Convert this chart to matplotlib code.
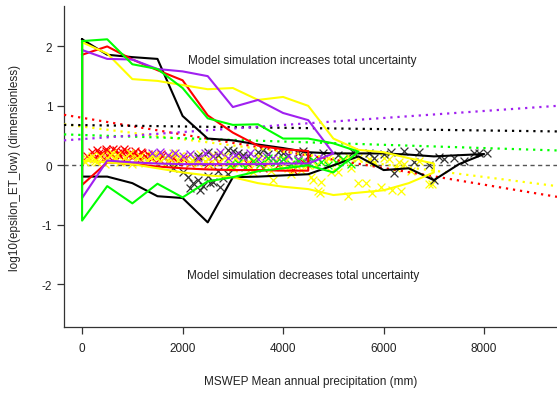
import matplotlib
matplotlib.use("Agg")
import matplotlib.pyplot as plt
import numpy as np

plt.rcParams['font.family'] = ['Liberation Sans', 'DejaVu Sans']

# ---------------- data ----------------
bins = [0, 500, 1000, 1500, 2000, 2500, 3000, 3500, 4000, 4500,
        5000, 5500, 6000, 6500, 7000, 7500, 8000]

black_upper = [2.12, 1.86, 1.82, 1.79, 0.83, 0.45, 0.42, 0.35, 0.29, 0.22,
               0.20, 0.20, 0.20, 0.18, 0.15, 0.17, 0.19]
black_lower = [-0.19, -0.19, -0.30, -0.52, -0.55, -0.96, -0.20, -0.19, -0.17, -0.15,
               0.00, 0.15, -0.08, -0.05, -0.25, 0.02, 0.19]

red_upper = [1.86, 2.00, 1.78, 1.60, 1.43, 0.84, 0.55, 0.33, 0.27, 0.24]
red_lower = [-0.33, 0.05, 0.02, -0.02, -0.05, -0.07, -0.08, -0.08, -0.09, -0.09]

yellow_upper = [2.07, 1.88, 1.45, 1.42, 1.35, 1.28, 1.30, 1.10, 1.15, 1.00,
                0.45, 0.26, 0.22, 0.12, 0.03]
yellow_lower = [0.08, 0.05, 0.02, -0.05, -0.12, -0.17, -0.20, -0.30, -0.36, -0.40,
                -0.50, -0.46, -0.42, -0.30, -0.12]

purple_upper = [1.94, 1.79, 1.78, 1.62, 1.58, 1.50, 0.98, 1.10, 0.88, 0.76, 0.20]
purple_lower = [-0.55, 0.08, 0.05, 0.03, 0.02, 0.02, 0.02, 0.02, 0.03, 0.03, 0.20]

green_upper = [2.09, 2.12, 1.70, 1.62, 1.30, 0.79, 0.68, 0.69, 0.45, 0.45, 0.37, 0.23]
green_lower = [-0.93, -0.35, -0.64, -0.31, -0.54, -0.27, -0.20, -0.10, -0.05, 0.00, -0.12, 0.23]

# regression (dotted) lines: value at left edge and right edge of plot
reg_x = [-360, 9450]
reg_red = [0.85, -0.53]
reg_yellow = [0.69, -0.35]
reg_black = [0.68, 0.57]
reg_green = [0.52, 0.25]
reg_purple = [0.42, 1.00]

red_px = [100, 200, 250, 300, 350, 400, 420, 480, 520, 560, 600, 640, 680, 720, 760, 800,
          840, 880, 920, 960, 1000, 1050, 1100, 1150, 1200, 1260, 1320, 1400, 1460, 1530,
          1600, 1700, 1800, 1900, 2000, 2150, 2300, 2500, 2700, 3000, 3300, 3600, 3900,
          4200, 4400, 330, 470, 610, 740, 870, 1020, 1180, 1340, 1580, 1750]
red_py = [0.15, 0.22, 0.12, 0.26, 0.18, 0.21, 0.10, 0.28, 0.16, 0.23, 0.19, 0.13, 0.25,
          0.20, 0.15, 0.22, 0.27, 0.12, 0.18, 0.21, 0.14, 0.24, 0.17, 0.11, 0.20, 0.15,
          0.19, 0.12, 0.17, 0.10, 0.15, 0.08, 0.13, 0.06, 0.10, 0.04, 0.08, 0.02, 0.06,
          -0.02, 0.03, -0.05, 0.01, -0.08, 0.05, 0.20, 0.24, 0.27, 0.18, 0.24, 0.19, 0.22,
          0.16, 0.19, 0.12]

yellow_px = [50, 150, 250, 350, 450, 550, 650, 750, 850, 950, 1050, 1150, 1250, 1350,
             1450, 1550, 1650, 1750, 1850, 1950, 2050, 2150, 2250, 2350, 2450, 2550, 2650,
             2750, 2850, 2950, 3050, 3150, 3250, 3350, 3450, 3550, 3650, 3750, 3850, 3950,
             4050, 4150, 4250, 4350, 4450, 4550, 4650, 4750, 4850, 4950, 5050, 5200, 5350,
             5500, 5650, 5800, 5950, 6100, 6250, 6400, 6550, 6700, 6900, 3800, 4700, 4740,
             5290, 5770, 6170, 6350, 5490, 6960,
             100, 300, 500, 700, 900, 1100, 1300, 1500, 1700, 1900, 2100, 2300, 2500, 2700,
             2900, 3100, 3300, 3500, 3700, 3900, 4100, 4300, 4500, 4900, 5300, 5700, 6000,
             200, 600, 1000, 1400, 1800, 2200, 2600, 3000, 3400, 4200, 4600, 5100, 6300]
yellow_py = [0.05, 0.12, 0.08, 0.15, 0.03, 0.18, 0.10, 0.06, 0.14, 0.20, 0.09, 0.16, 0.04,
             0.12, 0.18, 0.07, 0.14, 0.10, 0.02, 0.16, 0.11, 0.06, 0.13, 0.19, 0.08, 0.00,
             0.12, 0.05, 0.15, -0.03, 0.10, 0.04, 0.13, -0.06, 0.08, 0.02, 0.11, -0.10,
             0.05, -0.02, 0.09, -0.15, 0.03, -0.08, 0.06, -0.20, 0.00, -0.28, 0.08, -0.12,
             0.04, 0.10, -0.05, 0.12, -0.30, 0.05, -0.36, 0.10, -0.05, 0.02, -0.10, 0.08,
             -0.32, -0.25, -0.44, -0.47, -0.52, -0.47, -0.42, -0.44, -0.30, -0.32,
             0.10, 0.06, 0.13, 0.17, 0.08, 0.13, 0.09, 0.12, 0.05, 0.09, 0.15, 0.04, 0.11,
             0.16, 0.07, 0.14, 0.06, 0.15, 0.03, 0.12, -0.04, 0.10, 0.01, 0.12, 0.15, 0.10,
             0.13, 0.16, 0.20, 0.03, 0.17, 0.21, 0.07, 0.17, -0.05, -0.12, -0.01, -0.24,
             -0.12, 0.06]

black_px = [1800, 2000, 2100, 2200, 2300, 2400, 2500, 2600, 2700, 2800, 2900, 2300, 2500,
            2700, 2900, 3100, 3300, 3500, 3700, 3900, 4100, 4300, 4500, 4800, 5100, 5400,
            5700, 6000, 6150, 6400, 6600, 6900, 7000, 7200, 7400, 7600, 7800, 7900, 8050,
            6200, 5800, 6700, 7100, 2150, 2350, 2550, 2750, 3000, 3200, 3600, 4000, 4400]
black_py = [-0.05, -0.12, -0.20, -0.30, -0.25, -0.34, -0.18, -0.28, -0.10, -0.22, -0.15,
            0.15, 0.22, 0.18, 0.25, 0.20, 0.16, 0.22, 0.19, 0.23, 0.17, 0.21, 0.15, 0.20,
            0.18, 0.22, 0.20, 0.19, 0.23, 0.24, 0.05, 0.00, -0.25, 0.10, 0.12, 0.08, 0.20,
            0.21, 0.20, -0.13, 0.13, 0.22, 0.14, -0.38, -0.42, -0.30, -0.36, 0.24, 0.18,
            0.26, 0.20, 0.24]

purple_px = [1400, 1550, 1700, 1850, 2000, 2150, 2300, 2450, 2600, 2750, 2900, 3050, 3200,
             3350, 3500, 3650, 3800, 3950, 4100, 4300, 4500, 4700]
purple_py = [0.20, 0.23, 0.17, 0.21, 0.15, 0.19, 0.13, 0.20, 0.16, 0.22, 0.12, 0.18, 0.14,
             0.20, 0.10, 0.16, 0.12, 0.08, 0.15, 0.10, 0.06, 0.12]

green_px = [2950, 3100, 3250, 3400, 3550, 3700, 3850, 4000, 4150, 4300, 4450, 4600, 4750,
            4900, 5050, 5200, 5350]
green_py = [0.00, 0.04, -0.02, 0.08, 0.03, 0.12, 0.06, 0.10, 0.02, 0.07, 0.04, 0.09, 0.05,
            0.00, 0.06, 0.10, 0.03]

x_ticks = [0, 2000, 4000, 6000, 8000]
y_ticks = [-2, -1, 0, 1, 2]

RED, YEL, BLK, PUR, GRN = '#FF0000', '#FFFF00', '#000000', '#A020F0', '#00FF00'

# ---------------- plot ----------------
fig = plt.figure(figsize=(5.57, 4.06), dpi=100)
ax = fig.add_axes([64/557, 78/406, 493/557, 321/406])

ax.axhline(0, color='#555555', lw=1.0, linestyle=(0, (3, 2.5)), zorder=1)

for xs, ys, c in [(red_px, red_py, RED), (yellow_px, yellow_py, YEL),
                  (black_px, black_py, '#333333'), (purple_px, purple_py, PUR),
                  (green_px, green_py, GRN)]:
    ax.scatter(xs, ys, marker='x', s=32, linewidths=0.9, color=c, zorder=2)

for r, c in [(reg_red, RED), (reg_yellow, YEL), (reg_black, BLK),
             (reg_green, GRN), (reg_purple, PUR)]:
    ax.plot(reg_x, r, color=c, lw=1.6, linestyle=(0, (1, 2.2)), zorder=3)

for up, lo, c in [(black_upper, black_lower, BLK), (red_upper, red_lower, RED),
                  (yellow_upper, yellow_lower, YEL), (purple_upper, purple_lower, PUR),
                  (green_upper, green_lower, GRN)]:
    xs = bins[:len(up)]
    px = list(xs) + list(xs[::-1]) + [xs[0]]
    py = list(up) + list(lo[::-1]) + [up[0]]
    ax.plot(px, py, color=c, lw=1.5, zorder=4)

ax.text(4380, 1.77, 'Model simulation increases total uncertainty', ha='center',
        va='center', fontsize=8.5, color='#222222')
ax.text(4400, -1.85, 'Model simulation decreases total uncertainty', ha='center',
        va='center', fontsize=8.5, color='#222222')

ax.set_xlim(-360, 9450)
ax.set_ylim(-2.72, 2.68)
ax.set_xticks(x_ticks)
ax.set_yticks(y_ticks)
ax.set_xticklabels([str(v) for v in x_ticks])
ax.set_yticklabels([str(v) for v in y_ticks])
ax.tick_params(axis='both', direction='out', length=5, width=0.9, colors='#333333',
               labelsize=8.5, labelcolor='#222222')
ax.tick_params(axis='x', pad=6)
ax.tick_params(axis='y', pad=3.5)
for s in ['top', 'right']:
    ax.spines[s].set_visible(False)
for s in ['left', 'bottom']:
    ax.spines[s].set_color('#333333')
    ax.spines[s].set_linewidth(0.9)

ax.set_xlabel('MSWEP Mean annual precipitation (mm)', fontsize=8.5, color='#222222',
              labelpad=15)
ax.set_ylabel('log10(epsilon_ET_low) (dimensionless)', fontsize=8.5, color='#222222',
              labelpad=15)

fig.savefig('out.png', dpi=100)
